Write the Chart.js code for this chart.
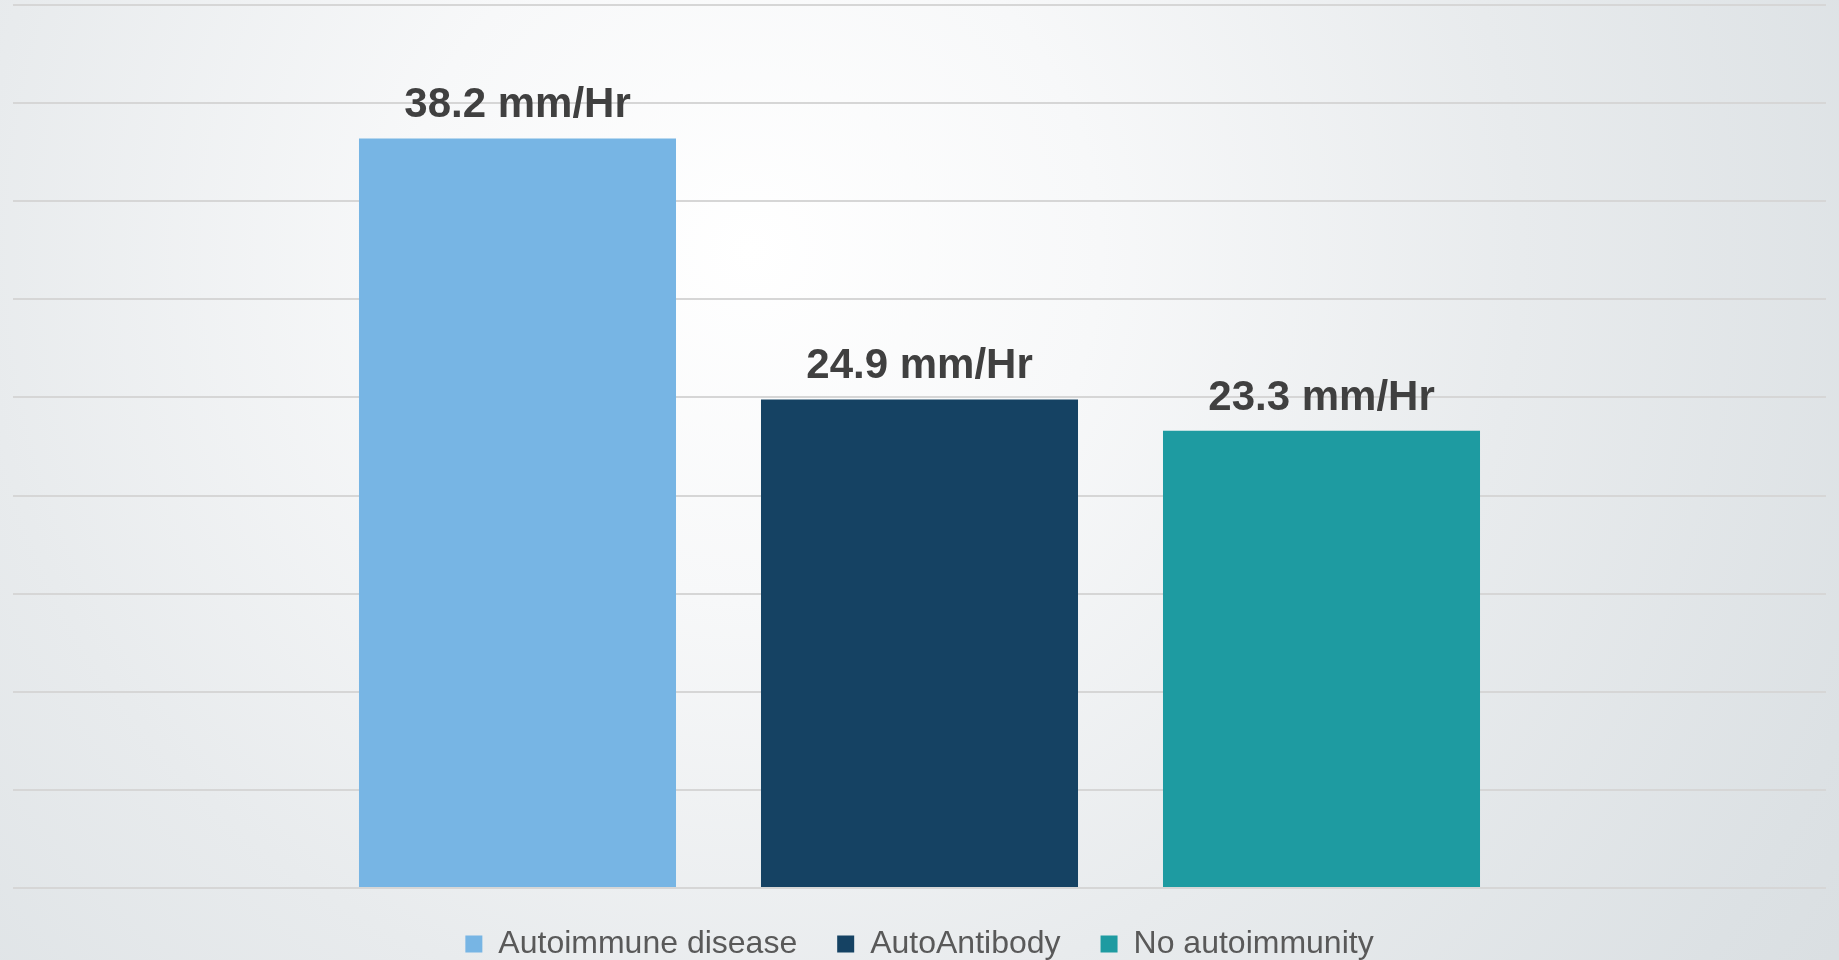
<!DOCTYPE html>
<html>
<head>
<meta charset="utf-8">
<script src="https://cdn.jsdelivr.net/npm/chart.js@4"></script>
<style>
  html, body { margin: 0; padding: 0; background: #eef1f2; }
  #wrap { width: 1839px; height: 960px; }
</style>
</head>
<body>
<div id="wrap"><canvas id="esr-chart" width="1839" height="960"></canvas></div>
<script>
// series shown in the legend, one bar each
const seriesNames = ['Autoimmune disease', 'AutoAntibody', 'No autoimmunity'];
const esrValues = [38.2, 24.9, 23.3];
const unitLabel = 'mm/Hr';
const seriesColors = ['#77b5e4', '#154263', '#1e9ba1'];

// soft grey/white backdrop like the slide
const backdrop = {
    id: 'backdrop',
    beforeDraw(chart) {
        const ctx = chart.ctx;
        const g = ctx.createRadialGradient(750, 250, 0, 750, 250, 1400);
        g.addColorStop(0, '#ffffff');
        g.addColorStop(0.25, '#f7f8f9');
        g.addColorStop(0.55, '#e8ebed');
        g.addColorStop(0.85, '#dce1e4');
        g.addColorStop(1, '#d8dde0');
        ctx.save();
        ctx.fillStyle = g;
        ctx.fillRect(0, 0, chart.width, chart.height);
        ctx.restore();
    }
};

// value labels above the bars
const valueLabels = {
    id: 'valueLabels',
    afterDatasetsDraw(chart) {
        const ctx = chart.ctx;
        ctx.save();
        ctx.font = 'bold 42px "Liberation Sans", Arial, sans-serif';
        ctx.fillStyle = '#404040';
        ctx.textAlign = 'center';
        ctx.textBaseline = 'alphabetic';
        chart.data.datasets.forEach((ds, i) => {
            const bar = chart.getDatasetMeta(i).data[0];
            ctx.fillText(ds.data[0] + ' ' + unitLabel, bar.x, bar.y - 21);
        });
        ctx.restore();
    }
};

const datasets = [];
for (var i in seriesNames) {
    datasets.push({
        label: seriesNames[i],
        data: [esrValues[i]],
        backgroundColor: seriesColors[i],
        borderWidth: 0,
        categoryPercentage: 0.6652,
        barPercentage: 0.7886
    });
}

const config = {
    type: 'bar',
    data: {
        labels: [''],
        datasets: datasets
    },
    options: {
        responsive: false,
        animation: false,
        layout: { padding: { left: 13, right: 13, top: 5, bottom: 0 } },
        scales: {
            x: { display: false },
            y: {
                min: 0,
                max: 45,
                ticks: { display: false, stepSize: 5 },
                grid: { color: '#d6d6d6', lineWidth: 2, drawTicks: false },
                border: { display: false }
            }
        },
        plugins: {
            tooltip: { enabled: false },
            legend: {
                position: 'bottom',
                maxHeight: 72,
                labels: {
                    boxWidth: 17,
                    boxHeight: 17,
                    padding: 40,
                    color: '#595959',
                    font: { family: '"Liberation Sans", Arial, sans-serif', size: 32 }
                }
            }
        }
    },
    plugins: [backdrop, valueLabels]
};

const esrChart = new Chart(document.getElementById('esr-chart'), config);
</script>
</body>
</html>
